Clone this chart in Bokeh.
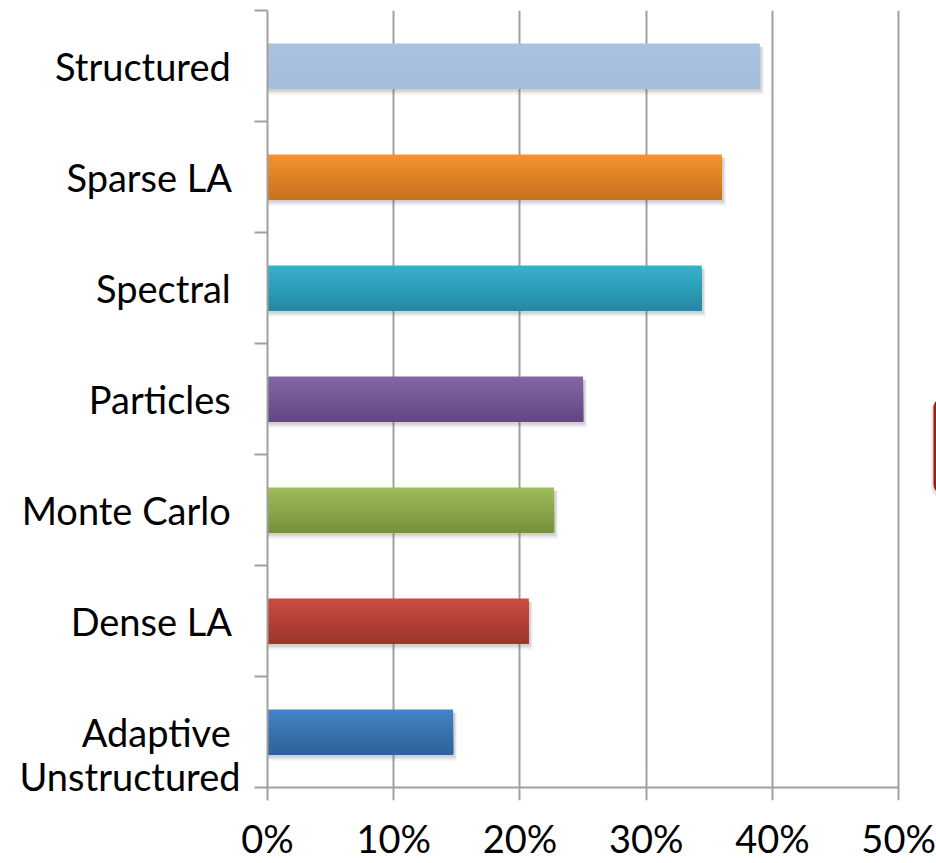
from bokeh.plotting import figure
from bokeh.models import Range1d, FixedTicker, PrintfTickFormatter, BoxAnnotation, ColumnDataSource
from bokeh.embed import file_html
from bokeh.resources import INLINE

# Share of applications per computational motif (percent), listed top to bottom
categories = ["Structured", "Sparse LA", "Spectral", "Particles",
              "Monte Carlo", "Dense LA", "Adaptive Unstructured"]
shares = [39.0, 36.0, 34.4, 25.0, 22.7, 20.7, 14.7]
category_labels = ["Structured", "Sparse LA", "Spectral", "Particles",
                   "Monte Carlo", "Dense LA", "Adaptive\nUnstructured"]
x_ticks = [0, 10, 20, 30, 40, 50]

# gradient end colours of each bar (top edge, bottom edge)
top_colors = ["#A9C2E0", "#F5932E", "#37B2CE", "#8267A5", "#9EBD5B", "#CB4C40", "#4383C6"]
bottom_colors = ["#A4BDDB", "#C7711F", "#2488A2", "#624780", "#75913C", "#9D352B", "#2E6298"]

W, H = 936, 863
FRAME_L, FRAME_T = 267, 10
AXIS_Y = 790            # pixel row of the value axis line
TICK_LEN = 13           # outward tick length in pixels
X_END = 53.0
n = len(categories)
px_x = X_END / (W - FRAME_L)            # data units per pixel, horizontally
px_y = n / (AXIS_Y - FRAME_T)           # data units per pixel, vertically
BAR_H = 0.405
STRIPS = 16
FONT = "Lato"
TWO_LINE_DROP_PX = 22   # two-line category label sits a little lower than its bar

# the frame reaches one tick length below the axis line, so the vertical grid
# lines continue below it and serve as the outward tick marks
p = figure(width=W, height=H, output_backend="svg", toolbar_location=None,
           x_range=Range1d(0, X_END), y_range=Range1d(-TICK_LEN * px_y, n),
           min_border_left=FRAME_L, min_border_right=0, min_border_top=FRAME_T,
           min_border_bottom=H - AXIS_Y - TICK_LEN)
p.outline_line_color = None
p.background_fill_color = "white"
p.border_fill_color = "white"

centers = [n - 1 - i + 0.5 for i in range(n)]


def hex_to_rgb(h):
    return tuple(int(h[k:k + 2], 16) for k in (1, 3, 5))


def mix(c1, c2, t):
    a, b = hex_to_rgb(c1), hex_to_rgb(c2)
    return "#%02x%02x%02x" % tuple(round(a[j] + (b[j] - a[j]) * t) for j in range(3))


grid_color = "#A0A0A0"
p.xgrid.ticker = FixedTicker(ticks=x_ticks)
p.xgrid.grid_line_color = grid_color
p.xgrid.grid_line_width = 2
p.ygrid.visible = False

# value axis line, from the first to the last tick
p.segment(x0=x_ticks[0], x1=x_ticks[-1], y0=0, y1=0, line_color=grid_color, line_width=2)

# soft drop shadow behind each bar
for dx, dy, grow, alpha in [(4, 5, 3, 0.06), (3, 4, 1.5, 0.09), (2, 3, 0, 0.14)]:
    p.hbar(y=[c - dy * px_y for c in centers], height=BAR_H + grow * px_y,
           left=0, right=[v + dx * px_x for v in shares],
           fill_color="#555555", fill_alpha=alpha, line_color=None)

# each bar is built from stacked bands, every band running from its own top edge
# down to the bar's bottom, so the fill shades from the top colour to the bottom one
tops, bottoms, rights, colors = [], [], [], []
for c, v, ct, cb in zip(centers, shares, top_colors, bottom_colors):
    for k in range(STRIPS):
        t = (k + 0.5) / STRIPS
        tops.append(c + BAR_H / 2 - k * BAR_H / STRIPS)
        bottoms.append(c - BAR_H / 2)
        rights.append(v)
        colors.append(mix(ct, cb, t))
src = ColumnDataSource(dict(top=tops, bottom=bottoms, right=rights, color=colors))
p.quad(left=0, right="right", top="top", bottom="bottom", source=src,
       fill_color="color", line_color=None)

# x axis: only the percent labels (line and ticks come from the grid and segment)
p.xaxis.ticker = FixedTicker(ticks=x_ticks)
p.xaxis.formatter = PrintfTickFormatter(format="%d%%")
p.xaxis.axis_line_color = None
p.xaxis.major_tick_line_color = None
p.xaxis.major_tick_out = 0
p.xaxis.major_tick_in = 0
p.xaxis.minor_tick_line_color = None
p.xaxis.major_label_text_font = FONT
p.xaxis.major_label_text_font_size = "38px"
p.xaxis.major_label_text_color = "black"
p.xaxis.major_label_standoff = 14

# y axis: category names beside their bars, tick marks at band boundaries
label_pos = [c - TWO_LINE_DROP_PX * px_y if "\n" in lab else c
             for c, lab in zip(centers, category_labels)]
p.yaxis.ticker = FixedTicker(ticks=label_pos, minor_ticks=list(range(n + 1)))
p.yaxis.major_label_overrides = {y: (lab.replace("\n", "\u00a0\n") if "\n" in lab
                                     else lab + "\u00a0")
                                 for y, lab in zip(label_pos, category_labels)}
p.yaxis.axis_line_color = grid_color
p.yaxis.axis_line_width = 2
p.yaxis.major_tick_line_color = None
p.yaxis.major_tick_out = 13
p.yaxis.major_tick_in = 0
p.yaxis.minor_tick_line_color = grid_color
p.yaxis.minor_tick_line_width = 2
p.yaxis.minor_tick_out = 13
p.yaxis.minor_tick_in = 0
p.yaxis.major_label_text_font = FONT
p.yaxis.major_label_text_font_size = "38px"
p.yaxis.major_label_text_color = "black"
p.yaxis.major_label_text_line_height = 0.95
p.yaxis.major_label_standoff = 14

# edge of the neighbouring rounded shape at the right border
p.add_layout(BoxAnnotation(left=931, right=1000, top=399, bottom=497,
                           left_units="canvas", right_units="canvas",
                           top_units="canvas", bottom_units="canvas",
                           fill_color="#888888", fill_alpha=0.25, line_color=None,
                           border_radius=10))
p.add_layout(BoxAnnotation(left=933, right=1000, top=397, bottom=494,
                           left_units="canvas", right_units="canvas",
                           top_units="canvas", bottom_units="canvas",
                           fill_color="#9A1C12", fill_alpha=1.0, line_color=None,
                           border_radius=10))

open("out.html", "w").write(file_html(p, INLINE))
